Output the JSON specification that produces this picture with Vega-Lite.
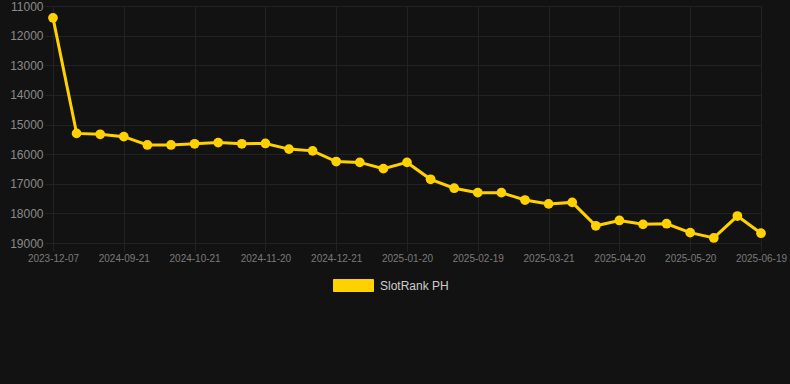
{
  "$schema": "https://vega.github.io/schema/vega-lite/v6.json",
  "autosize": {"type": "none"},
  "width": 735,
  "height": 237,
  "padding": {"left": 53, "top": 6, "right": 2, "bottom": 141},
  "background": "#121212",
  "config": {
    "view": {"stroke": null},
    "font": "Liberation Sans"
  },
  "data": {
    "values": [
      {"date": "2023-12-07", "rank": 11400, "series": "SlotRank PH"},
      {"date": "2024-09-01", "rank": 15300, "series": "SlotRank PH"},
      {"date": "2024-09-11", "rank": 15330, "series": "SlotRank PH"},
      {"date": "2024-09-21", "rank": 15410, "series": "SlotRank PH"},
      {"date": "2024-10-01", "rank": 15690, "series": "SlotRank PH"},
      {"date": "2024-10-11", "rank": 15690, "series": "SlotRank PH"},
      {"date": "2024-10-21", "rank": 15650, "series": "SlotRank PH"},
      {"date": "2024-10-31", "rank": 15610, "series": "SlotRank PH"},
      {"date": "2024-11-10", "rank": 15650, "series": "SlotRank PH"},
      {"date": "2024-11-20", "rank": 15640, "series": "SlotRank PH"},
      {"date": "2024-12-01", "rank": 15830, "series": "SlotRank PH"},
      {"date": "2024-12-11", "rank": 15890, "series": "SlotRank PH"},
      {"date": "2024-12-21", "rank": 16250, "series": "SlotRank PH"},
      {"date": "2024-12-31", "rank": 16280, "series": "SlotRank PH"},
      {"date": "2025-01-10", "rank": 16490, "series": "SlotRank PH"},
      {"date": "2025-01-20", "rank": 16280, "series": "SlotRank PH"},
      {"date": "2025-01-30", "rank": 16850, "series": "SlotRank PH"},
      {"date": "2025-02-09", "rank": 17150, "series": "SlotRank PH"},
      {"date": "2025-02-19", "rank": 17300, "series": "SlotRank PH"},
      {"date": "2025-03-01", "rank": 17300, "series": "SlotRank PH"},
      {"date": "2025-03-11", "rank": 17550, "series": "SlotRank PH"},
      {"date": "2025-03-21", "rank": 17680, "series": "SlotRank PH"},
      {"date": "2025-03-31", "rank": 17630, "series": "SlotRank PH"},
      {"date": "2025-04-10", "rank": 18420, "series": "SlotRank PH"},
      {"date": "2025-04-20", "rank": 18240, "series": "SlotRank PH"},
      {"date": "2025-04-30", "rank": 18370, "series": "SlotRank PH"},
      {"date": "2025-05-10", "rank": 18350, "series": "SlotRank PH"},
      {"date": "2025-05-20", "rank": 18650, "series": "SlotRank PH"},
      {"date": "2025-05-30", "rank": 18830, "series": "SlotRank PH"},
      {"date": "2025-06-09", "rank": 18090, "series": "SlotRank PH"},
      {"date": "2025-06-19", "rank": 18670, "series": "SlotRank PH"}
    ]
  },
  "encoding": {
    "x": {
      "field": "date",
      "type": "ordinal",
      "sort": null,
      "scale": {"type": "point", "range": [0, 708], "padding": 0},
      "axis": {
        "title": null,
        "values": ["2023-12-07", "2024-09-21", "2024-10-21", "2024-11-20", "2024-12-21", "2025-01-20", "2025-02-19", "2025-03-21", "2025-04-20", "2025-05-20", "2025-06-19"],
        "labelAngle": 0,
        "labelFontSize": 10,
        "labelColor": "#7a7a7a",
        "labelPadding": 2,
        "tickSize": 8,
        "tickColor": "#222222",
        "grid": true,
        "gridColor": "#222222",
        "domain": false
      }
    },
    "y": {
      "field": "rank",
      "type": "quantitative",
      "scale": {"domain": [11000, 19000], "reverse": true, "nice": false, "zero": false},
      "axis": {
        "title": null,
        "values": [11000, 12000, 13000, 14000, 15000, 16000, 17000, 18000, 19000],
        "format": "d",
        "labelFontSize": 12,
        "labelColor": "#8a8a8a",
        "labelPadding": 2,
        "tickSize": 8,
        "tickColor": "#222222",
        "grid": true,
        "gridColor": "#222222",
        "domain": false
      }
    },
    "color": {
      "field": "series",
      "type": "nominal",
      "scale": {"range": ["#FFD100"]},
      "legend": {
        "title": null,
        "orient": "none",
        "legendX": 280,
        "legendY": 259,
        "symbolType": "M-1,-0.3L1,-0.3L1,0.3L-1,0.3Z",
        "symbolSize": 1600,
        "symbolStrokeWidth": 1,
        "symbolFillColor": "#FFD100",
        "symbolStrokeColor": "#E0B400",
        "labelFontSize": 12,
        "labelColor": "#cccccc",
        "labelOffset": 6,
        "encode": {"symbols": {"update": {"fill": {"value": "#FFD100"}, "stroke": {"value": "#E0B400"}, "strokeWidth": {"value": 1}, "opacity": {"value": 1}}}}
      }
    }
  },
  "layer": [
    {"mark": {"type": "line", "strokeWidth": 3}},
    {"mark": {"type": "point", "filled": true, "opacity": 1, "size": 95}}
  ]
}
